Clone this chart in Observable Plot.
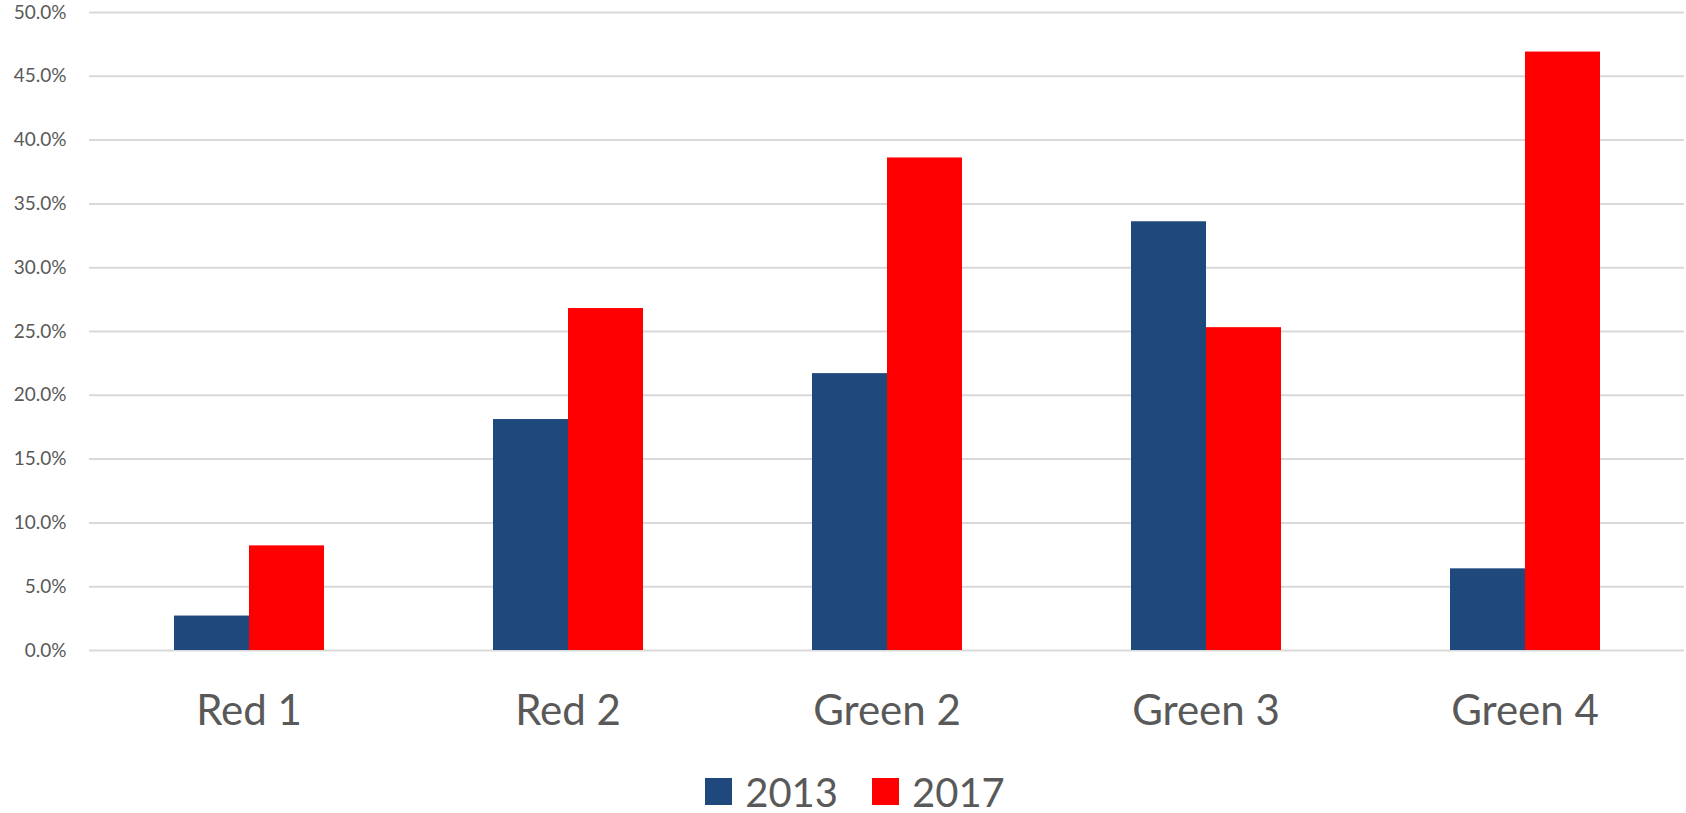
<!DOCTYPE html>
<html>
<head>
<meta charset="utf-8">
<script src="https://cdn.jsdelivr.net/npm/d3@7"></script>
<script src="https://cdn.jsdelivr.net/npm/@observablehq/plot@0.6"></script>
<style>
  html, body { margin: 0; padding: 0; background: #fff; }
  #chart svg { display: block; }
  #legend { display: flex; justify-content: center; align-items: center; font-family: Lato, sans-serif; font-size: 40px; color: #595959; height: 83px; padding-left: 24px; }
  #legend .item { display: flex; align-items: center; margin: 0 17px; }
  #legend .sw { width: 27px; height: 27px; margin-right: 13px; }
</style>
</head>
<body>
<div id="chart"></div>
<div id="legend"></div>
<script>
const categories = ["Red 1", "Red 2", "Green 2", "Green 3", "Green 4"];
const years = ["2013", "2017"];
const values2013 = [2.7, 18.1, 21.7, 33.6, 6.4];
const values2017 = [8.2, 26.8, 38.6, 25.3, 46.9];
const yTicks = [0, 5, 10, 15, 20, 25, 30, 35, 40, 45, 50];
const colors = ["#1F497D", "#FF0000"];

const series = {"2013": values2013, "2017": values2017};
const data = categories.flatMap((c, i) => years.map(y => ({category: c, year: y, value: series[y][i]})));

const chart = Plot.plot({
  width: 1686,
  height: 750,
  marginLeft: 87,
  marginRight: 0,
  marginTop: 12,
  marginBottom: 100,
  style: {fontFamily: "Lato, sans-serif", color: "#595959", background: "#fff"},
  fx: {domain: categories, padding: 0, label: null},
  x: {domain: years, paddingInner: 0, paddingOuter: 1.105, axis: null},
  y: {domain: [0, 50], label: null},
  color: {domain: years, range: colors},
  marks: [
    Plot.gridY(yTicks, {stroke: "#d9d9d9", strokeOpacity: 1, strokeWidth: 2}),
    Plot.axisY(yTicks, {tickSize: 0, tickPadding: 23, fontSize: 19, tickFormat: d => d.toFixed(1) + "%", label: null}),
    Plot.barY(data, {fx: "category", x: "year", y: "value", fill: "year"}),
    Plot.axisFx({anchor: "bottom", tickSize: 0, tickPadding: 45, fontSize: 42, label: null})
  ]
});
document.getElementById("chart").appendChild(chart);

const legend = document.getElementById("legend");
years.forEach((y, i) => {
  const item = document.createElement("div");
  item.className = "item";
  const sw = document.createElement("div");
  sw.className = "sw";
  sw.style.background = colors[i];
  const t = document.createElement("span");
  t.textContent = y;
  item.appendChild(sw);
  item.appendChild(t);
  legend.appendChild(item);
});
</script>
</body>
</html>
